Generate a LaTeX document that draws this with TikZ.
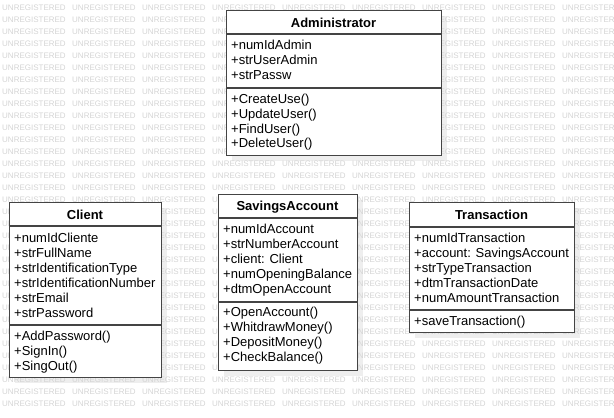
\documentclass[tikz,border=0pt]{standalone}
\usepackage{fontspec}
\setmainfont{Liberation Sans}
\definecolor{wmgray}{RGB}{212,212,212}
\definecolor{boxline}{RGB}{68,68,68}
\definecolor{shadowgray}{RGB}{238,238,238}
\begin{document}
\begin{tikzpicture}[x=1pt,y=-1pt,
 wm/.style={font=\fontsize{8}{8}\selectfont, text=wmgray, inner sep=0, anchor=west},
 classbox/.style={draw=boxline, line width=1.4pt, fill=white, inner sep=0, anchor=north west},
 shadowbox/.style={fill=shadowgray, draw=none, inner sep=0, anchor=north west},
 divider/.style={draw=boxline, line width=1.4pt},
 classtitle/.style={font=\fontsize{13}{15}\selectfont\bfseries, text=black, inner sep=0},
 member/.style={font=\fontsize{13}{15}\selectfont, inner sep=0, anchor=west, text height=9.5pt, text depth=3pt}]
\useasboundingbox (0,0) rectangle (614,418);
\clip (0,0) rectangle (614,418);
% shadows
\node[shadowbox, minimum width=215pt, minimum height=145pt] (admin-sh) at (232,16) {};
\node[shadowbox, minimum width=152pt, minimum height=175pt] (client-sh) at (15,208) {};
\node[shadowbox, minimum width=139pt, minimum height=176pt] (sav-sh) at (224,200) {};
\node[shadowbox, minimum width=165pt, minimum height=130pt] (tr-sh) at (415,208) {};
% watermark
\foreach \r in {0,...,33}
  \foreach \c in {0,...,8}
    \node[wm] (wm-\r-\c) at ({2+70*\c},{8+12*\r}) {UNREGISTERED};
% Administrator
\node[classbox, minimum width=215pt, minimum height=145pt] (admin) at (226,10) {};
\draw[divider] (admin.north west) ++(0,24) -- ++(215,0);
\draw[divider] (admin.north west) ++(0,78) -- ++(215,0);
\node[classtitle] (admin-title) at (333.5,23) {Administrator};
\foreach \t [count=\i] in {+numIdAdmin,+strUserAdmin,+strPassw}
  \node[member] (admin-a\i) at (231,{46.5+14.7*(\i-1)}) {\t};
\foreach \t [count=\i] in {+CreateUse(),+UpdateUser(),+FindUser(),+DeleteUser()}
  \node[member] (admin-m\i) at (231,{100.5+14.7*(\i-1)}) {\t};
% Client
\node[classbox, minimum width=152pt, minimum height=175pt] (client) at (9,202) {};
\draw[divider] (client.north west) ++(0,24) -- ++(152,0);
\draw[divider] (client.north west) ++(0,123) -- ++(152,0);
\node[classtitle] (client-title) at (85,215) {Client};
\foreach \t [count=\i] in {+numIdCliente,+strFullName,+strIdentificationType,+strIdentificationNumber,+strEmail,+strPassword}
  \node[member] (client-a\i) at (14,{239.5+15*(\i-1)}) {\t};
\foreach \t [count=\i] in {+AddPassword(),+SignIn(),+SingOut()}
  \node[member] (client-m\i) at (14,{337.5+15*(\i-1)}) {\t};
% SavingsAccount
\node[classbox, minimum width=139pt, minimum height=176pt] (sav) at (218,194) {};
\draw[divider] (sav.north west) ++(0,24) -- ++(139,0);
\draw[divider] (sav.north west) ++(0,108) -- ++(139,0);
\node[classtitle] (sav-title) at (287.5,207) {SavingsAccount};
\foreach \t [count=\i] in {+numIdAccount,+strNumberAccount,+client: Client,+numOpeningBalance,+dtmOpenAccount}
  \node[member] (sav-a\i) at (223,{230.5+15*(\i-1)}) {\t};
\foreach \t [count=\i] in {+OpenAccount(),+WhitdrawMoney(),+DepositMoney(),+CheckBalance()}
  \node[member] (sav-m\i) at (223,{313.5+15*(\i-1)}) {\t};
% Transaction
\node[classbox, minimum width=165pt, minimum height=130pt] (tr) at (409,202) {};
\draw[divider] (tr.north west) ++(0,25) -- ++(165,0);
\draw[divider] (tr.north west) ++(0,108) -- ++(165,0);
\node[classtitle] (tr-title) at (491.5,215) {Transaction};
\foreach \t [count=\i] in {+numIdTransaction,+account: SavingsAccount,+strTypeTransaction,+dtmTransactionDate,+numAmountTransaction}
  \node[member] (tr-a\i) at (414,{239.5+15*(\i-1)}) {\t};
\node[member] (tr-m1) at (414,322.5) {+saveTransaction()};
\end{tikzpicture}
\end{document}
